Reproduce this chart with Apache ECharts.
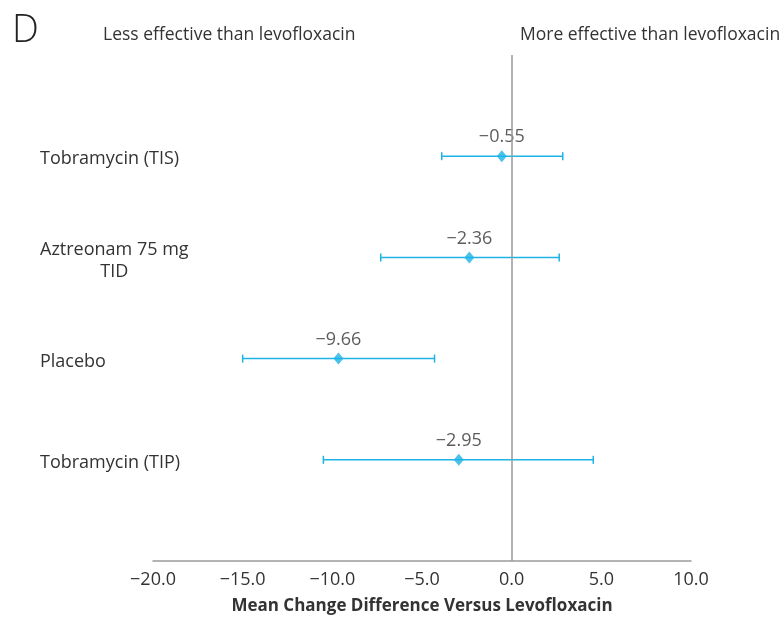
<!DOCTYPE html>
<html>
<head>
<meta charset="utf-8">
<script src="https://cdn.jsdelivr.net/npm/echarts@6/dist/echarts.min.js"></script>
<style>
html,body{margin:0;padding:0;background:#fff;}
#chart{width:783px;height:620px;}
</style>
</head>
<body>
<div id="chart"></div>
<script>
// Data (bottom to top position order: 1..4)
const categories = ['Tobramycin (TIP)', 'Placebo', 'Aztreonam 75 mg\nTID', 'Tobramycin (TIS)'];
const positions = [1, 2, 3, 4];
const meanDiff = [-2.95, -9.66, -2.36, -0.55];
const ciLow = [-10.5, -15.0, -7.3, -3.9];
const ciHigh = [4.55, -4.3, 2.65, 2.85];
const xTicks = [-20, -15, -10, -5, 0, 5, 10];

const FONT = '"Open Sans", sans-serif';
const BLUE = '#1db3e6';
const GRAY = '#9a9a9a';
const TEXT = '#333333';
const FS = 18;

function fmtNum(v, d) {
  const s = Math.abs(v).toFixed(d);
  return (v < 0 ? '\u2212' : '') + s;
}

const chart = echarts.init(document.getElementById('chart'));

const errData = positions.map((p, i) => [ciLow[i], ciHigh[i], p]);
const ptData = positions.map((p, i) => [meanDiff[i], p]);

const option = {
  backgroundColor: '#fff',
  animation: false,
  textStyle: { fontFamily: FONT },
  grid: { left: 153, right: 92, top: 55, bottom: 52, containLabel: false },
  graphic: [
    { type: 'text', left: 12, top: 12, style: { text: 'D', font: '300 38px ' + FONT, fill: '#222' } },
    { type: 'text', left: 103, top: 26, style: { text: 'Less effective than levofloxacin', font: '17.5px ' + FONT, fill: TEXT } },
    { type: 'text', left: 520, top: 26, style: { text: 'More effective than levofloxacin', font: '17.5px ' + FONT, fill: TEXT } }
  ],
  xAxis: {
    type: 'value',
    min: -20, max: 10, interval: 5,
    axisLine: { show: true, lineStyle: { color: GRAY, width: 1.5 } },
    axisTick: { show: false },
    splitLine: { show: false },
    axisLabel: {
      color: TEXT, fontSize: FS, fontFamily: FONT, margin: 10,
      formatter: v => fmtNum(v, 1)
    },
    name: 'Mean Change Difference Versus Levofloxacin',
    nameLocation: 'middle',
    nameGap: 37,
    nameTextStyle: { color: TEXT, fontSize: 17, fontWeight: 'bold', fontFamily: FONT }
  },
  yAxis: {
    type: 'value',
    min: 0, max: 5, interval: 1,
    axisLine: { show: false },
    axisTick: { show: false },
    splitLine: { show: false },
    axisLabel: {
      align: 'left',
      margin: 113,
      padding: [6, 0, 0, 0],
      color: TEXT, fontSize: FS, fontFamily: FONT,
      formatter: v => {
        const idx = positions.indexOf(v);
        if (idx < 0) return '';
        const lines = categories[idx].split('\n');
        if (lines.length === 1) return '{a|' + lines[0] + '}';
        return lines.map((l, j) => j === 0 ? '{a|' + l + '}' : '{c|' + l + '}').join('\n');
      },
      rich: {
        a: { fontSize: FS, color: TEXT, fontFamily: FONT, lineHeight: 22, align: 'left' },
        c: { fontSize: FS, color: TEXT, fontFamily: FONT, lineHeight: 22, align: 'center' }
      }
    }
  },
  series: [
    {
      type: 'custom',
      data: errData,
      encode: { x: [0, 1], y: 2 },
      renderItem: function (params, api) {
        const y = api.value(2);
        const p1 = api.coord([api.value(0), y]);
        const p2 = api.coord([api.value(1), y]);
        const h = 4;
        const style = { stroke: BLUE, lineWidth: 1.5 };
        return {
          type: 'group',
          children: [
            { type: 'line', shape: { x1: p1[0], y1: p1[1], x2: p2[0], y2: p2[1] }, style: style },
            { type: 'line', shape: { x1: p1[0], y1: p1[1] - h, x2: p1[0], y2: p1[1] + h }, style: style },
            { type: 'line', shape: { x1: p2[0], y1: p2[1] - h, x2: p2[0], y2: p2[1] + h }, style: style }
          ]
        };
      },
      z: 3
    },
    {
      type: 'scatter',
      data: ptData,
      symbol: 'diamond',
      symbolSize: [10, 12],
      itemStyle: { color: BLUE },
      label: {
        show: true, position: 'top', distance: 4,
        color: TEXT, fontSize: FS, fontFamily: FONT,
        formatter: p => fmtNum(p.value[0], 2)
      },
      z: 4,
      markLine: {
        silent: true,
        symbol: 'none',
        label: { show: false },
        lineStyle: { color: GRAY, width: 1.5, type: 'solid' },
        data: [{ xAxis: 0 }]
      }
    }
  ]
};
chart.setOption(option);
</script>
</body>
</html>
